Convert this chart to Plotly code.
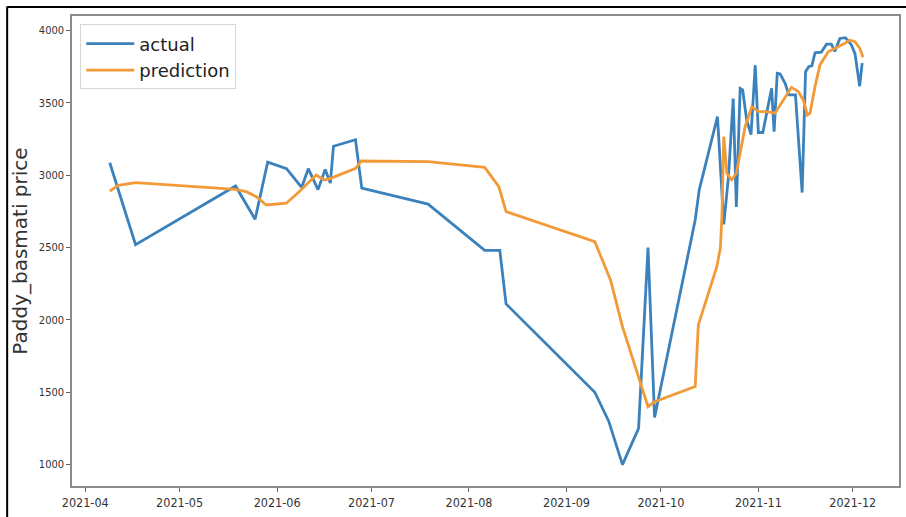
import plotly.graph_objects as go

actual_dates = [
    "2021-04-08 19:00", "2021-04-17", "2021-05-18 19:00", "2021-05-25", "2021-05-29",
    "2021-06-04", "2021-06-08 19:00", "2021-06-10 22:00", "2021-06-14", "2021-06-16 07:00",
    "2021-06-17 22:00", "2021-06-18 22:00", "2021-06-25 22:00", "2021-06-27 22:00", "2021-07-19",
    "2021-08-06", "2021-08-10 19:00", "2021-08-12 19:00", "2021-09-10", "2021-09-14 10:00",
    "2021-09-18 19:00", "2021-09-23 22:00", "2021-09-26 22:00", "2021-09-29", "2021-10-11 22:00",
    "2021-10-13 05:00", "2021-10-19", "2021-10-21", "2021-10-22 12:00", "2021-10-24",
    "2021-10-25", "2021-10-26 05:00", "2021-10-27", "2021-10-28 07:00", "2021-10-29 16:00",
    "2021-10-31", "2021-11-01", "2021-11-02 10:00", "2021-11-03 22:00", "2021-11-05 05:00",
    "2021-11-06", "2021-11-07", "2021-11-07 22:00", "2021-11-09 12:00", "2021-11-10 17:00",
    "2021-11-12 19:00", "2021-11-14 22:00", "2021-11-16", "2021-11-17", "2021-11-18",
    "2021-11-19", "2021-11-21", "2021-11-22 16:00", "2021-11-24 05:00", "2021-11-25 07:00",
    "2021-11-26 22:00", "2021-11-28 16:00", "2021-11-30 14:00", "2021-12-01 17:00", "2021-12-03 05:00",
    "2021-12-04",
]
actual_values = [
    3086, 2520, 2925, 2695, 3090,
    3045, 2915, 3045, 2900, 3040,
    2945, 3200, 3245, 2910, 2800,
    2480, 2480, 2110, 1500, 1300,
    1000, 1250, 2500, 1325, 2690,
    2900, 3405, 2660, 2990, 3530,
    2780, 3600, 3590, 3380, 3280,
    3760, 3295, 3295, 3460, 3600,
    3300, 3705, 3700, 3635, 3555,
    3555, 2880, 3715, 3750, 3755,
    3845, 3850, 3905, 3905, 3855,
    3945, 3950, 3900, 3840, 3615,
    3775,
]

pred_dates = [
    "2021-04-08 19:00", "2021-04-11 12:00", "2021-04-17", "2021-05-18 19:00", "2021-05-22 05:00",
    "2021-05-25 10:00", "2021-05-28 14:00", "2021-06-03 22:00", "2021-06-08", "2021-06-13 10:00",
    "2021-06-16", "2021-06-18", "2021-06-26", "2021-06-27 17:00", "2021-07-19",
    "2021-08-06", "2021-08-10 12:00", "2021-08-12 19:00", "2021-09-10", "2021-09-15",
    "2021-09-18 19:00", "2021-09-26 22:00", "2021-09-29", "2021-10-11 22:00", "2021-10-12 22:00",
    "2021-10-18 19:00", "2021-10-19 22:00", "2021-10-20 10:00", "2021-10-21", "2021-10-22",
    "2021-10-23 12:00", "2021-10-25", "2021-10-27 19:00", "2021-10-29 22:00", "2021-11-01",
    "2021-11-03 14:00", "2021-11-06 07:00", "2021-11-08 22:00", "2021-11-11 12:00", "2021-11-13 17:00",
    "2021-11-15 07:00", "2021-11-16 14:00", "2021-11-17 10:00", "2021-11-19", "2021-11-20 14:00",
    "2021-11-23 05:00", "2021-11-26 10:00", "2021-11-28 12:00", "2021-11-30", "2021-12-01 17:00",
    "2021-12-03 05:00", "2021-12-04 07:00",
]
pred_values = [
    2890, 2930, 2948, 2902, 2886,
    2851, 2794, 2806, 2886, 3001,
    2967, 2978, 3048, 3098, 3093,
    3054, 2920, 2748, 2540, 2276,
    1953, 1400, 1434, 1540, 1965,
    2367, 2497, 2713, 3266, 3013,
    2967, 3013, 3335, 3473, 3439,
    3439, 3428, 3520, 3607, 3577,
    3520, 3416, 3428, 3612, 3762,
    3853, 3888, 3911, 3934, 3923,
    3877, 3815,
]

y_ticks = [1000, 1500, 2000, 2500, 3000, 3500, 4000]
x_ticks = ["2021-04-01", "2021-05-01", "2021-06-01", "2021-07-01", "2021-08-01",
           "2021-09-01", "2021-10-01", "2021-11-01", "2021-12-01"]

BLUE = "#3b82bd"
ORANGE = "#f29a38"
COND = "DejaVu Sans Condensed, Liberation Sans Narrow, DejaVu Sans"

fig = go.Figure()
fig.add_trace(go.Scatter(x=actual_dates, y=actual_values, mode="lines", name="actual",
                         line=dict(color=BLUE, width=2.8)))
fig.add_trace(go.Scatter(x=pred_dates, y=pred_values, mode="lines", name="prediction",
                         line=dict(color=ORANGE, width=2.8)))

fig.update_layout(
    width=906, height=517,
    margin=dict(l=72, r=5, t=16, b=31),
    plot_bgcolor="white", paper_bgcolor="white",
    showlegend=True,
    legend=dict(x=0.01, y=0.982, xanchor="left", yanchor="top",
                bgcolor="rgba(255,255,255,0.85)", bordercolor="#d6d6d6", borderwidth=1,
                font=dict(family="DejaVu Sans", size=18, color="#222222"),
                itemwidth=48, tracegroupgap=0),
    shapes=[
        dict(type="line", xref="paper", yref="paper", x0=-0.0784, x1=-0.0784, y0=-0.1, y1=1.02,
             line=dict(color="black", width=2)),
        dict(type="line", xref="paper", yref="paper", x0=-0.0784, x1=1.01, y0=1.019, y1=1.019,
             line=dict(color="black", width=2)),
    ],
)
fig.update_xaxes(
    type="date", range=["2021-03-27 19:00", "2021-12-15 17:00"],
    tickvals=x_ticks, tickformat="%Y-%m",
    tickfont=dict(family=COND, size=12.5, color="#333333"),
    showgrid=False, zeroline=False,
    showline=True, linecolor="#8c8c8c", linewidth=1.5, mirror=True,
    ticks="outside", ticklen=4, tickcolor="#666666",
)
fig.update_yaxes(
    range=[852, 4100], tickvals=y_ticks,
    tickfont=dict(family=COND, size=11, color="#333333"),
    showgrid=False, zeroline=False,
    showline=True, linecolor="#8c8c8c", linewidth=1.5, mirror=True,
    ticks="outside", ticklen=4, tickcolor="#666666",
    title=dict(text="Paddy_basmati price", font=dict(family="DejaVu Sans", size=20, color="#333333"),
               standoff=6),
)

fig.write_html("out.html")
